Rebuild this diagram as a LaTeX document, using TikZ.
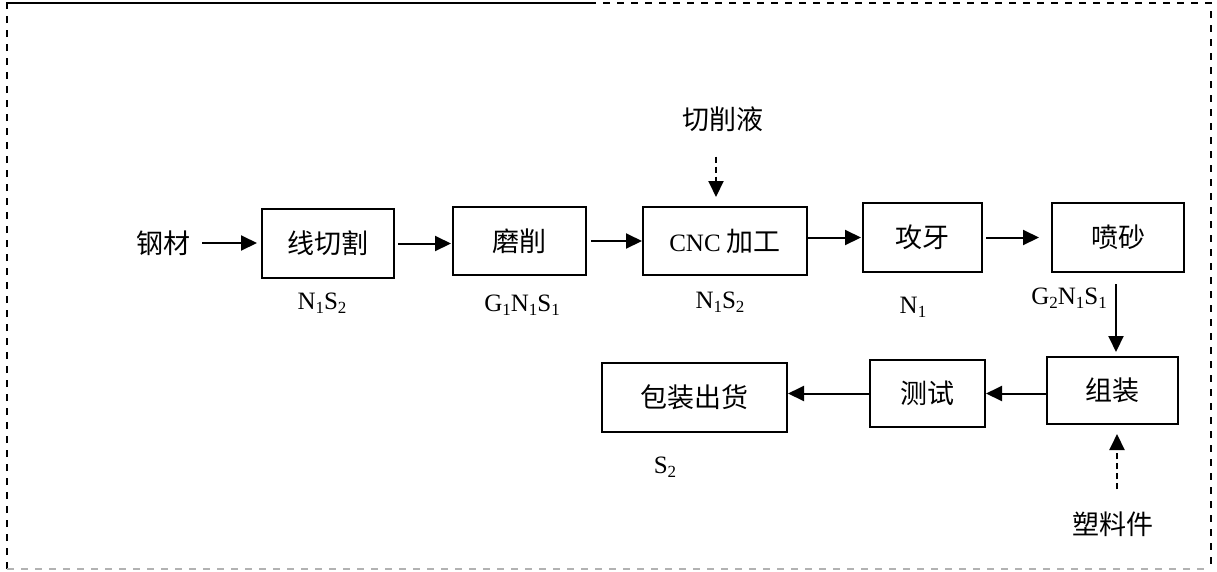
\documentclass[tikz,border=0pt]{standalone}
\usepackage{fontspec}
\setmainfont{Liberation Serif}
\newfontfamily\cjk{Noto Sans CJK SC}
\usetikzlibrary{arrows.meta}
\newcommand\sbs[1]{\raisebox{-4pt}{\fontsize{17}{17}\selectfont #1}}
\begin{document}
\begin{tikzpicture}[x=1pt,y=-1pt,
  proc/.style={draw, line width=2pt, inner sep=0pt, font=\cjk\fontsize{27}{27}\selectfont},
  flow/.style={line width=2pt, -{Triangle[length=16pt,width=15pt]}},
  feed/.style={flow, dash pattern=on 6pt off 4pt},
  lbl/.style={font=\fontsize{25}{25}\selectfont, anchor=base, inner sep=0pt},
  txt/.style={font=\cjk\fontsize{27}{27}\selectfont, inner sep=0pt},
  frame/.style={line width=1.6pt, dash pattern=on 7pt off 7pt}]
\useasboundingbox (0,0) rectangle (1217,571);
% frame
\coordinate (tl) at (7,3);
\coordinate (tr) at (1211,3);
\coordinate (br) at (1211,569);
\coordinate (bl) at (7,569);
\coordinate (tm) at (594,3);
\draw[frame] (bl) -- (tl) -- (tr) -- (br);
\draw[frame, black!30] (bl) -- (br);
\draw[line width=1.6pt] (tl) -- (tm);
% boxes
\node[proc, minimum width=132pt, minimum height=69pt] (b1) at (328,243.5) {线切割};
\node[proc, minimum width=133pt, minimum height=68pt] (b2) at (519.5,241) {磨削};
\node[proc, minimum width=164pt, minimum height=68pt] (b3) at (725,241) {{\rmfamily\fontsize{25}{25}\selectfont CNC} 加工};
\node[proc, minimum width=119pt, minimum height=69pt] (b4) at (922.5,237.5) {攻牙};
\node[proc, minimum width=132pt, minimum height=69pt] (b5) at (1118,237.5) {喷砂};
\node[proc, minimum width=131pt, minimum height=67pt] (b6) at (1112.5,390.5) {组装};
\node[proc, minimum width=115pt, minimum height=67pt] (b7) at (927.5,393.5) {测试};
\node[proc, minimum width=185pt, minimum height=69pt] (b8) at (694.5,397.5) {包装出货};
% texts
\node[txt] (steel) at (163,243) {钢材};
\node[txt] (c1) at (723,119) {切削液};
\node[txt] (p1) at (1113,524) {塑料件};
% labels
\node[lbl] (l1) at (322,309) {N\sbs{1}S\sbs{2}};
\node[lbl] (l2) at (522,311) {G\sbs{1}N\sbs{1}S\sbs{1}};
\node[lbl] (l3) at (720,308) {N\sbs{1}S\sbs{2}};
\node[lbl] (l4) at (913,313) {N\sbs{1}};
\node[lbl] (l5) at (1069,304) {G\sbs{2}N\sbs{1}S\sbs{1}};
\node[lbl] (l6) at (665,473) {S\sbs{2}};
% arrows
\draw[flow, shorten <=12pt, shorten >=4pt] (steel.east) -- (steel.east -| b1.west);
\draw[flow, shorten <=3pt, shorten >=1pt] (b1.east) -- (b1.east -| b2.west);
\draw[flow, shorten <=4pt] (b2.east) -- (b2.east -| b3.west);
\draw[flow, shorten >=1pt] (b3.east |- b4.west) -- (b4.west);
\draw[flow, shorten <=3pt, shorten >=12pt] (b4.east) -- (b4.east -| b5.west);
\draw[flow, shorten <=11pt, shorten >=4pt] ([xshift=-2pt]b5.south) -- ([xshift=-2pt]b5.south |- b6.north);
\draw[flow] (b6.west |- b7.east) -- (b7.east);
\draw[flow] (b7.west) -- (b7.west -| b8.east);
\draw[feed, shorten <=25pt, shorten >=9pt] ([xshift=-7pt]c1.south) -- ([xshift=-7pt]c1.south |- b3.north);
\draw[feed, shorten <=22pt, shorten >=9pt] ([xshift=4pt]p1.north) -- ([xshift=4pt]p1.north |- b6.south);
\end{tikzpicture}
\end{document}
